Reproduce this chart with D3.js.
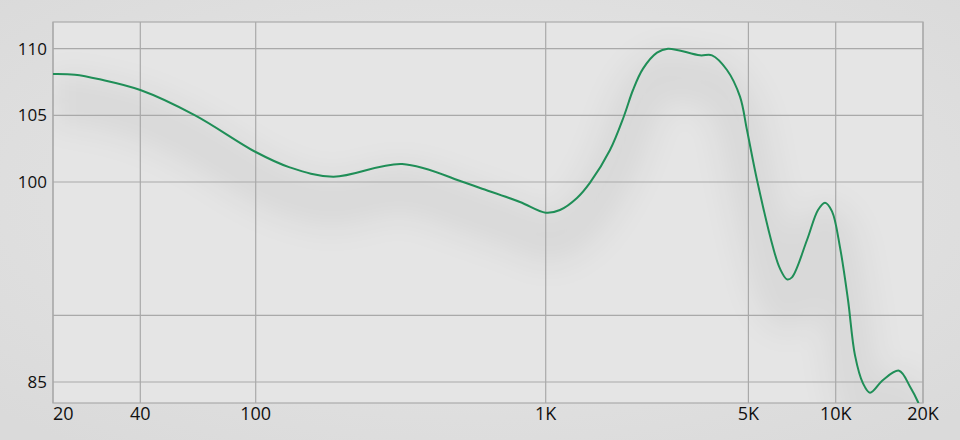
<!DOCTYPE html>
<html>
<head>
<meta charset="utf-8">
<script src="https://cdn.jsdelivr.net/npm/d3@7"></script>
<style>
  body { margin: 0; background: #e2e2e2; }
  svg { display: block; }
  text { font-family: "Open Sans", "Noto Sans", sans-serif; fill: #111; }
</style>
</head>
<body>
<script>
// frequency response, Hz -> dB
var freqs = [20, 23.8, 29, 40, 61.8, 100, 131, 185, 320, 519, 594, 815, 1000, 1120, 1282, 1422,
  1666, 1862, 2000, 2166, 2420, 2640, 3404, 3745, 4218, 4677, 4944, 5354, 6080, 6426, 6793, 7065,
  7962, 8690, 9185, 9711, 10348, 11027, 11656, 12420, 13131, 14561, 16530, 18046, 19220, 20000];
var levels = [108.1, 108.05, 107.7, 106.9, 105.0, 102.25, 101.1, 100.4, 101.35, 100.0, 99.55, 98.5, 97.7, 97.9, 98.8, 99.95,
  102.4, 104.95, 106.9, 108.5, 109.7, 110.0, 109.5, 109.5, 108.4, 106.4, 103.9, 100.15, 95.1, 93.5, 92.7, 92.85,
  95.65, 97.9, 98.45, 97.8, 95.1, 91.15, 87.0, 84.9, 84.2, 85.15, 85.85, 84.65, 83.5, 82.4];

var xTicks = [20, 40, 100, 1000, 5000, 10000, 20000];
var xTickLabels = ["20", "40", "100", "1K", "5K", "10K", "20K"];
var yGrid = [110, 105, 100, 90, 85];
var yTickLabels = [110, 105, 100, 85];

var w = 960, h = 440;
var pLeft = 53, pRight = 923, pTop = 22, pBottom = 403;

var svg = d3.select("body").append("svg")
  .attr("width", w)
  .attr("height", h);

var defs = svg.append("defs");

var bg = defs.append("radialGradient").attr("id", "bg")
  .attr("cx", "50%").attr("cy", "45%").attr("r", "70%");
bg.append("stop").attr("offset", "0%").attr("stop-color", "#e8e8e8");
bg.append("stop").attr("offset", "100%").attr("stop-color", "#dadada");

defs.append("clipPath").attr("id", "plot")
  .append("rect")
  .attr("x", pLeft).attr("y", pTop)
  .attr("width", pRight - pLeft).attr("height", pBottom - pTop);

defs.append("filter").attr("id", "soft")
  .attr("x", "-10%").attr("y", "-30%").attr("width", "120%").attr("height", "160%")
  .append("feGaussianBlur").attr("stdDeviation", 14);

svg.append("rect")
  .attr("width", w).attr("height", h)
  .attr("fill", "url(#bg)");

svg.append("rect")
  .attr("x", pLeft).attr("y", pTop)
  .attr("width", pRight - pLeft).attr("height", pBottom - pTop)
  .attr("fill", "#e5e5e5");

var x = d3.scaleLog()
  .domain([20, 20000])
  .range([pLeft, pRight]);

var y = d3.scaleLinear()
  .domain([83.425, 112])
  .range([pBottom, pTop]);

var points = freqs.map(function(f, i) {
  return [f, levels[i]];
});

var line = d3.line()
  .x(function(d) { return x(d[0]); })
  .y(function(d) { return y(d[1]); })
  .curve(d3.curveCatmullRom.alpha(0.5));

// soft shade under the curve
svg.append("g")
  .attr("clip-path", "url(#plot)")
  .append("path")
  .attr("d", line(points))
  .attr("transform", "translate(0,26)")
  .attr("fill", "none")
  .attr("stroke", "#000")
  .attr("stroke-opacity", 0.05)
  .attr("stroke-width", 52)
  .attr("filter", "url(#soft)");

var grid = svg.append("g");

grid.selectAll("line.h")
  .data(yGrid)
  .enter()
  .append("line")
  .attr("x1", pLeft).attr("x2", pRight)
  .attr("y1", function(d) { return y(d); })
  .attr("y2", function(d) { return y(d); })
  .attr("stroke", "#a9a9a9")
  .attr("stroke-width", 1.2);

grid.selectAll("line.v")
  .data(xTicks)
  .enter()
  .append("line")
  .attr("x1", function(d) { return x(d); })
  .attr("x2", function(d) { return x(d); })
  .attr("y1", pTop).attr("y2", pBottom)
  .attr("stroke", "#a9a9a9")
  .attr("stroke-width", 1.2);

svg.append("rect")
  .attr("x", pLeft).attr("y", pTop)
  .attr("width", pRight - pLeft).attr("height", pBottom - pTop)
  .attr("fill", "none")
  .attr("stroke", "#ababab")
  .attr("stroke-width", 1.2);

svg.append("g")
  .attr("clip-path", "url(#plot)")
  .append("path")
  .attr("d", line(points))
  .attr("fill", "none")
  .attr("stroke", "#1f8e57")
  .attr("stroke-width", 2);

svg.selectAll("text.y")
  .data(yTickLabels)
  .enter()
  .append("text")
  .attr("x", 47)
  .attr("y", function(d) { return y(d) + 6; })
  .attr("text-anchor", "end")
  .attr("font-size", "17px")
  .text(function(d) { return d; });

svg.selectAll("text.x")
  .data(xTicks)
  .enter()
  .append("text")
  .attr("x", function(d, i) { return i === 0 ? pLeft : x(d); })
  .attr("y", 420)
  .attr("text-anchor", function(d, i) { return i === 0 ? "start" : "middle"; })
  .attr("font-size", "18px")
  .text(function(d, i) { return xTickLabels[i]; });
</script>
</body>
</html>
